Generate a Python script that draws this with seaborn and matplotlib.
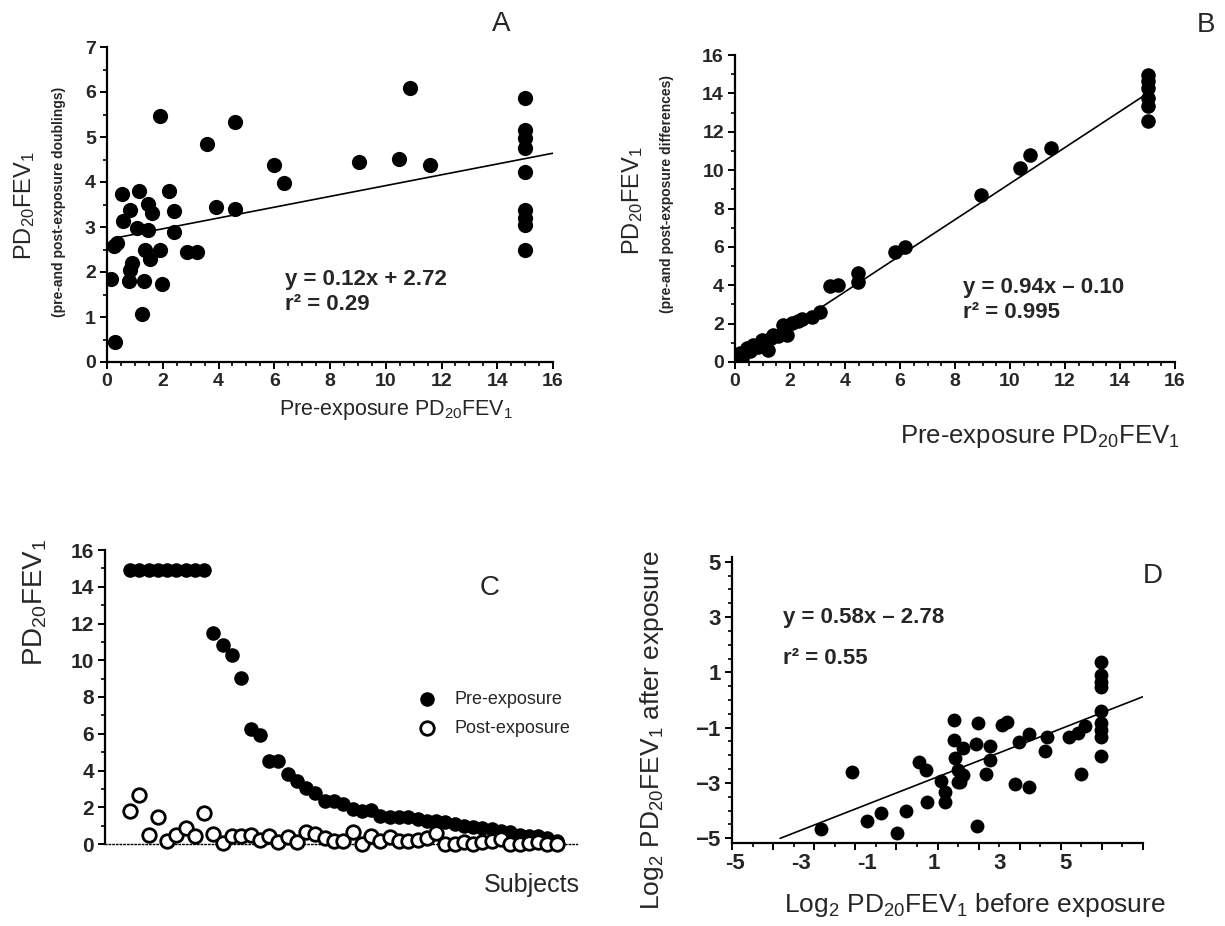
import matplotlib
matplotlib.use("Agg")
import matplotlib.pyplot as plt
import numpy as np
import pandas as pd
import seaborn as sns
from matplotlib.ticker import MultipleLocator, NullLocator

# ---- panel A: pre-exposure PD20FEV1 vs doublings
a_pre = [1.90, 4.59, 3.60, 5.99, 6.36, 0.55, 1.15, 2.22, 0.82, 1.48, 1.60, 2.40,
         3.91, 4.59, 0.59, 1.06, 1.48, 2.40, 0.37, 0.25, 1.36, 1.90, 1.54, 2.86,
         3.24, 0.88, 0.82, 0.14, 0.79, 1.34, 1.96, 1.27, 0.29, 10.86, 9.04, 10.48,
         11.60, 15, 15, 15, 15, 15, 15, 15, 15, 15]
a_doub = [5.47, 5.33, 4.84, 4.38, 3.97, 3.73, 3.81, 3.79, 3.38, 3.51, 3.32, 3.36,
          3.44, 3.40, 3.14, 2.97, 2.93, 2.90, 2.64, 2.58, 2.49, 2.49, 2.30, 2.45,
          2.45, 2.19, 2.04, 1.84, 1.81, 1.81, 1.73, 1.07, 0.45, 6.08, 4.45, 4.52,
          4.38, 5.86, 5.16, 4.97, 4.75, 4.23, 3.38, 3.19, 3.04, 2.49]
a_fit = (0.12, 2.72)
a_fit_x = [0.25, 16]

# ---- panel B: pre-exposure PD20FEV1 vs differences
b_pre = [6.18, 5.82, 4.49, 4.49, 3.76, 3.45, 3.09, 2.79, 2.30, 2.06, 1.76, 1.88,
         1.39, 1.21, 0.97, 0.67, 0.42, 0.18, 0.00, 0.05, 0.25, 0.55, 0.85, 1.05,
         1.30, 1.55, 2.45, 8.93, 10.36, 10.73, 11.48, 15, 15, 15, 15, 15, 15]
b_diff = [5.98, 5.75, 4.63, 4.19, 4.02, 3.96, 2.63, 2.36, 2.16, 2.05, 1.93, 1.41,
          1.41, 0.63, 1.15, 0.89, 0.71, 0.45, 0.10, 0.05, 0.20, 0.55, 0.80, 1.00,
          1.25, 1.35, 2.25, 8.71, 10.10, 10.80, 11.15, 14.97, 14.62, 14.28, 13.75,
          13.32, 12.54]
b_fit = (0.94, -0.10)
b_fit_x = [0, 15]

# ---- panel C: subjects, pre and post exposure
c_pre = [14.9] * 9 + [11.48, 10.81, 10.31, 9.04, 6.24, 5.93, 4.52, 4.52, 3.80, 3.44,
         3.07, 2.80, 2.35, 2.35, 2.17, 1.90, 1.81, 1.84, 1.54, 1.45, 1.45, 1.45,
         1.36, 1.27, 1.27, 1.18, 1.08, 0.99, 0.90, 0.87, 0.81, 0.72, 0.63, 0.49,
         0.45, 0.42, 0.33, 0.18]
c_post = [1.81, 2.68, 0.51, 1.45, 0.18, 0.49, 0.85, 0.42, 1.68, 0.54, 0.04, 0.45,
          0.42, 0.49, 0.22, 0.45, 0.13, 0.36, 0.13, 0.63, 0.54, 0.31, 0.18, 0.14,
          0.67, 0.00, 0.42, 0.14, 0.36, 0.14, 0.14, 0.24, 0.33, 0.60, 0.00, 0.00,
          0.09, 0.00, 0.09, 0.14, 0.27, 0.00, 0.00, 0.04, 0.09, 0.00, 0.00]

# ---- panel D: log2 before vs after
d_before = [-2.84, -2.09, -1.72, -1.37, -0.99, -0.77, -0.44, -0.28, -0.26, 0.08,
            0.18, 0.18, 0.39, 0.40, 0.43, 0.51, 0.51, 0.61, 0.63, 0.55, 0.99, 0.93,
            1.28, 1.28, 1.17, 0.97, 1.56, 1.70, 1.89, 1.98, 2.23, 2.23, 2.62, 2.67,
            3.20, 3.43, 3.59, 3.48, 3.97, 3.97, 3.97, 3.97, 3.97, 3.97, 3.97, 3.97,
            3.97]
d_after = [-4.67, -2.59, -4.36, -4.10, -4.82, -4.00, -2.25, -2.53, -3.68, -2.92,
           -3.34, -3.68, -0.72, -1.44, -2.11, -2.53, -2.95, -1.75, -2.71, -2.95,
           -0.82, -1.59, -1.66, -2.17, -2.69, -4.56, -0.90, -0.80, -3.05, -1.51,
           -1.23, -3.16, -1.84, -1.33, -1.35, -1.18, -0.93, -2.69, 1.39, 0.91, 0.66,
           0.48, -0.39, -0.84, -1.08, -1.33, -2.02]
d_fit = (0.58, -2.78)
d_fit_x = [-3.83, 5]
# the original figure prints its x tick labels off the tick marks
d_xlabels = ["-5", "-3", "-1", "1", "3", "5"]
d_xlabel_at = [-4.93, -3.32, -1.71, -0.10, 1.51, 3.12]

sns.set_style("ticks")
plt.rcParams["font.family"] = ["Liberation Sans", "DejaVu Sans"]
plt.rcParams["mathtext.fontset"] = "custom"
plt.rcParams["mathtext.rm"] = "Liberation Sans"
plt.rcParams["mathtext.it"] = "Liberation Sans:italic"
plt.rcParams["mathtext.bf"] = "Liberation Sans:bold"

W, H = 1225, 926
fig = plt.figure(figsize=(W / 100, H / 100), dpi=100)


def box(left, right, bottom, top):
    # pixel box -> figure fraction
    return [left / W, 1 - bottom / H, (right - left) / W, (bottom - top) / H]


def ftext(px, py, s, **kw):
    fig.text(px / W, 1 - py / H, s, **kw)


def style(ax, size=14):
    for sp in ["top", "right"]:
        ax.spines[sp].set_visible(False)
    for sp in ["left", "bottom"]:
        ax.spines[sp].set_linewidth(1.6)
        ax.spines[sp].set_color("black")
    ax.tick_params(which="major", length=5, width=1.4, direction="out",
                   labelsize=size, pad=3, color="black")
    ax.tick_params(which="minor", length=3, width=1.2, direction="out", color="black")
    for lab in ax.get_xticklabels() + ax.get_yticklabels():
        lab.set_fontweight("bold")


PD = r"PD$_{\mathregular{20}}$FEV$_{\mathregular{1}}$"
eq_kw = dict(fontsize=16, fontweight="bold", va="center", ha="left")

# ---------------- A
axA = fig.add_axes(box(107, 553, 362, 47))
sns.scatterplot(x=a_pre, y=a_doub, ax=axA, color="black", s=120, edgecolor="black",
                linewidth=0, zorder=3)
fx = np.array(a_fit_x)
sns.lineplot(x=fx, y=a_fit[0] * fx + a_fit[1], ax=axA, color="black", linewidth=1.2)
axA.set_xlim(0, 16)
axA.set_ylim(0, 7)
axA.xaxis.set_major_locator(MultipleLocator(2))
axA.xaxis.set_minor_locator(MultipleLocator(0.5))
axA.yaxis.set_major_locator(MultipleLocator(1))
axA.yaxis.set_minor_locator(MultipleLocator(0.5))
axA.set_xlabel("")
axA.set_ylabel("")
style(axA)
ftext(285, 279, "y = 0.12x + 2.72", **eq_kw)
ftext(285, 305, "r² = 0.29", **eq_kw)
ftext(501, 24, "A", fontsize=20, ha="center", va="center")
ftext(396, 410, "Pre-exposure " + PD, fontsize=15.5, ha="center", va="center")
ftext(25, 206, PD, fontsize=17, rotation=90, ha="center", va="center")
ftext(59, 202, "(pre-and post-exposure doublings)", fontsize=10, fontweight="bold",
      rotation=90, ha="center", va="center")

# ---------------- B
axB = fig.add_axes(box(735, 1175, 362, 55))
sns.scatterplot(x=b_pre, y=b_diff, ax=axB, color="black", s=110, edgecolor="black",
                linewidth=0, zorder=3)
fx = np.array(b_fit_x)
sns.lineplot(x=fx, y=b_fit[0] * fx + b_fit[1], ax=axB, color="black", linewidth=1.2)
axB.set_xlim(0, 16)
axB.set_ylim(0, 16)
axB.xaxis.set_major_locator(MultipleLocator(2))
axB.xaxis.set_minor_locator(MultipleLocator(0.5))
axB.yaxis.set_major_locator(MultipleLocator(2))
axB.yaxis.set_minor_locator(MultipleLocator(1))
axB.set_xlabel("")
axB.set_ylabel("")
style(axB)
ftext(963, 287, "y = 0.94x – 0.10", **eq_kw)
ftext(963, 313, "r² = 0.995", **eq_kw)
ftext(1206, 25, "B", fontsize=20, ha="center", va="center")
ftext(1040, 437, "Pre-exposure " + PD, fontsize=18.5, ha="center", va="center")
ftext(633, 201, PD, fontsize=17, rotation=90, ha="center", va="center")
ftext(667, 194, "(pre-and post-exposure differences)", fontsize=10, fontweight="bold",
      rotation=90, ha="center", va="center")

# ---------------- C
axC = fig.add_axes(box(105, 577, 844, 550))
subj = np.arange(len(c_pre))
dfC = pd.DataFrame({"subject": np.concatenate([subj, subj]),
                    "value": c_pre + c_post,
                    "period": ["Pre-exposure"] * len(c_pre) + ["Post-exposure"] * len(c_post)})
sns.scatterplot(data=dfC[dfC.period == "Pre-exposure"], x="subject", y="value", ax=axC,
                color="black", s=110, edgecolor="black", linewidth=0, zorder=3,
                label="Pre-exposure", clip_on=False)
sns.scatterplot(data=dfC[dfC.period == "Post-exposure"], x="subject", y="value", ax=axC,
                color="white", s=95, edgecolor="black", linewidth=2.0, zorder=4,
                label="Post-exposure", clip_on=False)
axC.set_xlim(-2.7, 48.2)
axC.set_ylim(0, 16)
axC.yaxis.set_major_locator(MultipleLocator(2))
axC.yaxis.set_minor_locator(MultipleLocator(1))
axC.xaxis.set_major_locator(NullLocator())
axC.set_xlabel("")
axC.set_ylabel("")
style(axC, size=15)
axC.spines["bottom"].set_linestyle(":")
axC.spines["bottom"].set_linewidth(1.0)
axC.legend(loc="upper left", bbox_to_anchor=(400 / W, 1 - 682 / H),
           bbox_transform=fig.transFigure, frameon=False, fontsize=13,
           handletextpad=0.5, labelspacing=0.65, borderpad=0)
ftext(490, 588, "C", fontsize=20, ha="center", va="center")
ftext(580, 885, "Subjects", fontsize=18, ha="right", va="center")
ftext(35, 602, PD, fontsize=20, rotation=90, ha="center", va="center")

# ---------------- D
axD = fig.add_axes(box(732, 1143, 843.3, 556.7))
sns.scatterplot(x=d_before, y=d_after, ax=axD, color="black", s=100, edgecolor="black",
                linewidth=0, zorder=3)
fx = np.array(d_fit_x)
sns.lineplot(x=fx, y=d_fit[0] * fx + d_fit[1], ax=axD, color="black", linewidth=1.2)
axD.set_xlim(-5, 5)
axD.set_ylim(-5.18, 5.18)
axD.xaxis.set_major_locator(MultipleLocator(1))
axD.xaxis.set_minor_locator(MultipleLocator(0.5))
axD.set_yticks([-5, -3, -1, 1, 3, 5])
axD.yaxis.set_minor_locator(MultipleLocator(0.5))
axD.set_xlabel("")
axD.set_ylabel("")
style(axD, size=16)
axD.tick_params(axis="x", which="major", labelbottom=False)
for pos, lab in zip(d_xlabel_at, d_xlabels):
    axD.text(pos, -0.035, lab, transform=axD.get_xaxis_transform(), ha="center",
             va="top", fontsize=16, fontweight="bold")
ftext(783, 618, "y = 0.58x – 2.78", **eq_kw)
ftext(783, 658, "r² = 0.55", **eq_kw)
ftext(1153, 576, "D", fontsize=20, ha="center", va="center")
ftext(975, 905, r"Log$_{\mathregular{2}}$ " + PD + " before exposure", fontsize=19,
      ha="center", va="center")
ftext(652, 730, r"Log$_{\mathregular{2}}$ " + PD + " after exposure", fontsize=19,
      rotation=90, ha="center", va="center")

fig.savefig("out.png", dpi=100)
